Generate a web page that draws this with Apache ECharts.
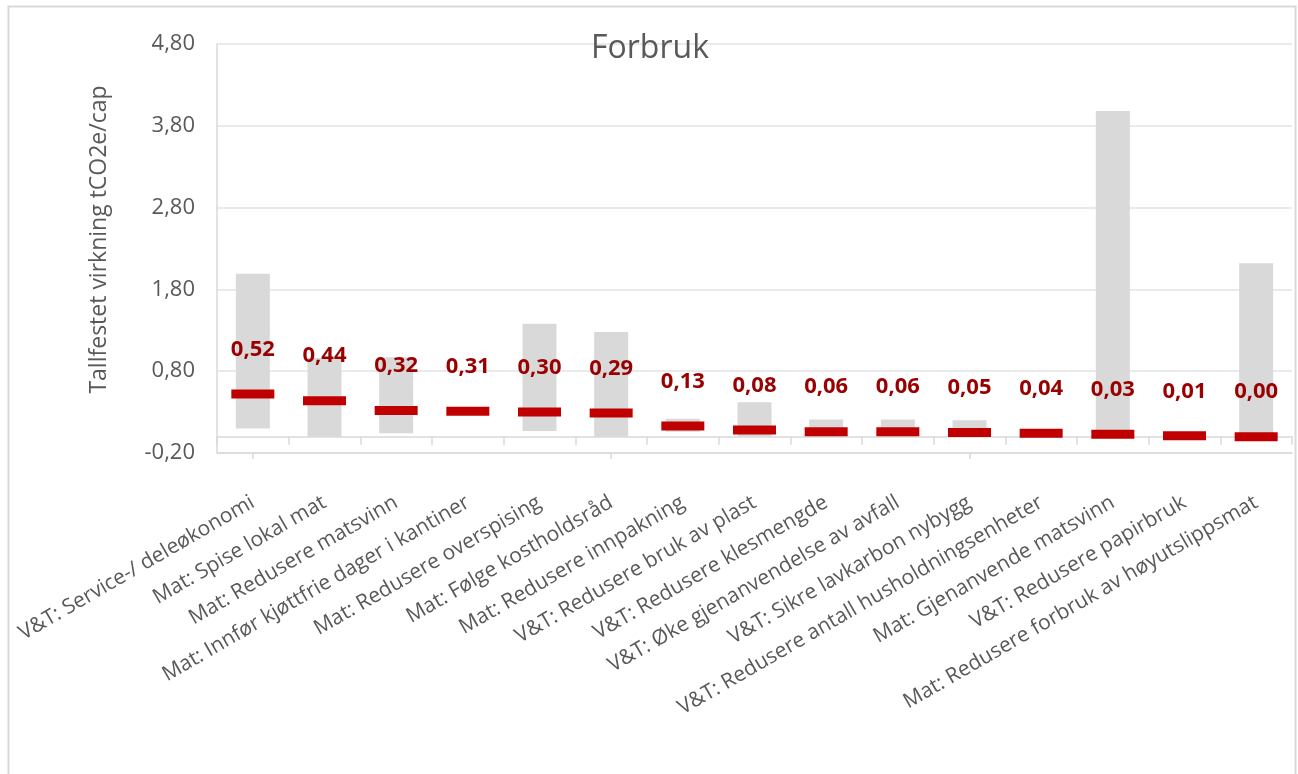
<!DOCTYPE html>
<html>
<head>
<meta charset="utf-8">
<script src="https://cdn.jsdelivr.net/npm/echarts@6/dist/echarts.min.js"></script>
<style>
html,body{margin:0;padding:0;background:#fff;}
#c{width:1298px;height:774px;}
</style>
</head>
<body>
<div id="c"></div>
<script>
const categories = [
  "V&T: Service-/ deleøkonomi",
  "Mat: Spise lokal mat",
  "Mat: Redusere matsvinn",
  "Mat: Innfør kjøttfrie dager i kantiner",
  "Mat: Redusere overspising",
  "Mat: Følge kostholdsråd",
  "Mat: Redusere innpakning",
  "V&T: Redusere bruk av plast",
  "V&T: Redusere klesmengde",
  "V&T: Øke gjenanvendelse av avfall",
  "V&T: Sikre lavkarbon nybygg",
  "V&T: Redusere antall husholdningsenheter",
  "Mat: Gjenanvende matsvinn",
  "V&T: Redusere papirbruk",
  "Mat: Redusere forbruk av høyutslippsmat"
];
const values    = [0.52, 0.44, 0.32, 0.31, 0.30, 0.29, 0.13, 0.08, 0.06, 0.06, 0.05, 0.04, 0.03, 0.01, 0.00];
const rangeLow  = [0.10, 0.00, 0.04, null, 0.07, 0.00, 0.06, 0.00, 0.00, 0.00, 0.00, null, 0.00, null, 0.00];
const rangeHigh = [1.99, 0.96, 0.97, null, 1.38, 1.28, 0.22, 0.42, 0.21, 0.21, 0.20, null, 3.98, null, 2.12];
const yTicks = [-0.2, 0.8, 1.8, 2.8, 3.8, 4.8];

const fmt = v => v.toFixed(2).replace('.', ',');
const font = "'Open Sans', sans-serif";
const rangeBase = rangeLow.map(v => v === null ? '-' : v);
const rangeSpan = rangeHigh.map((h, i) => h === null ? '-' : +(h - rangeLow[i]).toFixed(4));

const chart = echarts.init(document.getElementById('c'), null, {renderer: 'canvas'});
chart.setOption({
  animation: false,
  backgroundColor: '#fff',
  textStyle: {fontFamily: font},
  graphic: [{
    type: 'rect', left: 6, top: 4, z: -10, silent: true,
    shape: {x: 0, y: 0, width: 1287, height: 775},
    style: {fill: 'none', stroke: '#d9d9d9', lineWidth: 2}
  }],
  title: {
    text: 'Forbruk', left: 586, top: 28,
    textStyle: {fontFamily: font, fontSize: 32, fontWeight: 'normal', color: '#595959'}
  },
  grid: {left: 217, right: 6, top: 44, bottom: 321, containLabel: false},
  xAxis: [{
    type: 'category', data: categories, position: 'bottom',
    axisLine: {show: true, onZero: true, lineStyle: {color: '#d9d9d9', width: 1.5}},
    axisTick: {show: true, length: 8, lineStyle: {color: '#d9d9d9', width: 1.5}},
    axisLabel: {interval: 0, rotate: 30, margin: 48, fontSize: 21, color: '#595959', fontFamily: font},
    splitLine: {show: false}
  }, {
    type: 'category', data: categories, position: 'bottom',
    axisLine: {show: true, onZero: true, lineStyle: {color: '#d9d9d9', width: 1.5}},
    axisTick: {show: true, alignWithLabel: true, length: 6, lineStyle: {color: '#d9d9d9', width: 1.5}},
    axisLabel: {show: false},
    splitLine: {show: false}
  }],
  yAxis: {
    type: 'value', min: yTicks[0], max: yTicks[yTicks.length - 1], interval: 1,
    name: 'Tallfestet virkning tCO2e/cap', nameLocation: 'middle', nameGap: 106,
    nameTextStyle: {fontSize: 23, color: '#595959', fontFamily: font, padding: [0, 0, 0, 18]},
    axisLine: {show: true, lineStyle: {color: '#d9d9d9', width: 1.5}},
    axisTick: {show: false},
    axisLabel: {formatter: fmt, fontSize: 22, color: '#595959', margin: 22, fontFamily: font},
    splitLine: {show: true, lineStyle: {color: '#e3e3e3', width: 1.5}}
  },
  series: [{
    type: 'bar', stack: 'r', data: rangeBase, barWidth: 34,
    itemStyle: {color: 'transparent'}, silent: true
  }, {
    type: 'bar', stack: 'r', data: rangeSpan, barWidth: 34,
    itemStyle: {color: '#d9d9d9'}, silent: true
  }, {
    type: 'scatter', data: values, symbol: 'rect', symbolSize: [43, 9], z: 5,
    itemStyle: {color: '#c00000', opacity: 1},
    label: {
      show: true, position: 'top', distance: 29, formatter: p => fmt(p.value),
      fontSize: 22, fontWeight: 'bold', color: '#990000', fontFamily: font
    }
  }]
});
</script>
</body>
</html>
